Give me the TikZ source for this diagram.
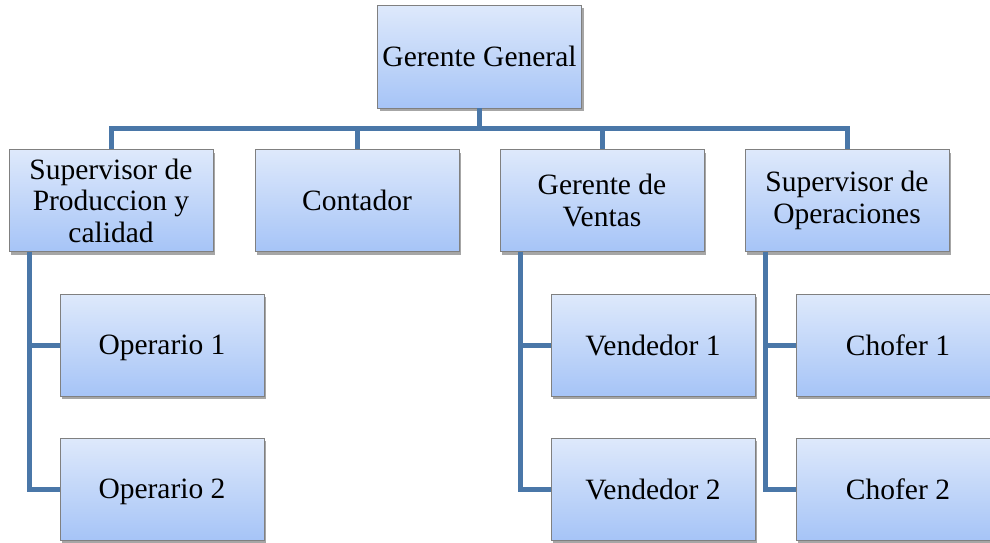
\documentclass[tikz,border=0pt]{standalone}
\usepackage{fontspec}
\setmainfont{Liberation Serif}
\usepackage{tikz}
\usetikzlibrary{positioning, shadows}

\definecolor{linkblue}{RGB}{74,119,168}
\definecolor{boxtop}{RGB}{222,233,251}
\definecolor{boxbottom}{RGB}{166,196,247}
\definecolor{boxedge}{RGB}{128,128,128}

\tikzset{
    orgbox/.style={draw=boxedge, line width=0.8pt, top color=boxtop, bottom color=boxbottom,
        minimum width=204pt, minimum height=102pt, inner sep=2pt, align=center,
        font=\fontsize{29.5}{31.5}\selectfont,
        drop shadow={shadow xshift=2pt, shadow yshift=-3pt, opacity=0.35, fill=black}},
    oneline/.style={orgbox, text depth=0pt},
    link/.style={draw=linkblue, line width=5pt}
}

\begin{document}
\begin{tikzpicture}[x=1pt, y=-1pt]
    \useasboundingbox (0,0) rectangle (990,542);

    % top
    \node[oneline, minimum height=103pt] (gg) at (479.5,56.5) {Gerente General};

    % second row
    \node[orgbox] (sup) at (111,200.5) {Supervisor de\\Produccion y\\calidad};
    \node[oneline] (cont) at (357,200.5) {Contador};
    \node[orgbox] (gv) at (602,200.5) {Gerente de\\Ventas};
    \node[orgbox] (sop) at (847,200.5) {Supervisor de\\Operaciones};

    % third row
    \node[oneline] (op1) at (162,345) {Operario 1};
    \node[oneline] (op2) at (162,489) {Operario 2};
    \node[oneline] (ve1) at (653,345) {Vendedor 1};
    \node[oneline] (ve2) at (653,489) {Vendedor 2};
    \node[oneline] (ch1) at (898,345) {Chofer 1};
    \node[oneline] (ch2) at (898,489) {Chofer 2};

    % links
    \begin{scope}[on background layer/.try]
    \foreach \b in {sup, cont, gv, sop}
        \draw[link] (gg.south) -- ++(0,20) -| (\b.north);
    \draw[link] ([xshift=21pt]sup.south west) |- (op1.west);
    \draw[link] ([xshift=21pt]sup.south west) |- (op2.west);
    \draw[link] ([xshift=21pt]gv.south west) |- (ve1.west);
    \draw[link] ([xshift=21pt]gv.south west) |- (ve2.west);
    \draw[link] ([xshift=21pt]sop.south west) |- (ch1.west);
    \draw[link] ([xshift=21pt]sop.south west) |- (ch2.west);
    \end{scope}
\end{tikzpicture}
\end{document}
